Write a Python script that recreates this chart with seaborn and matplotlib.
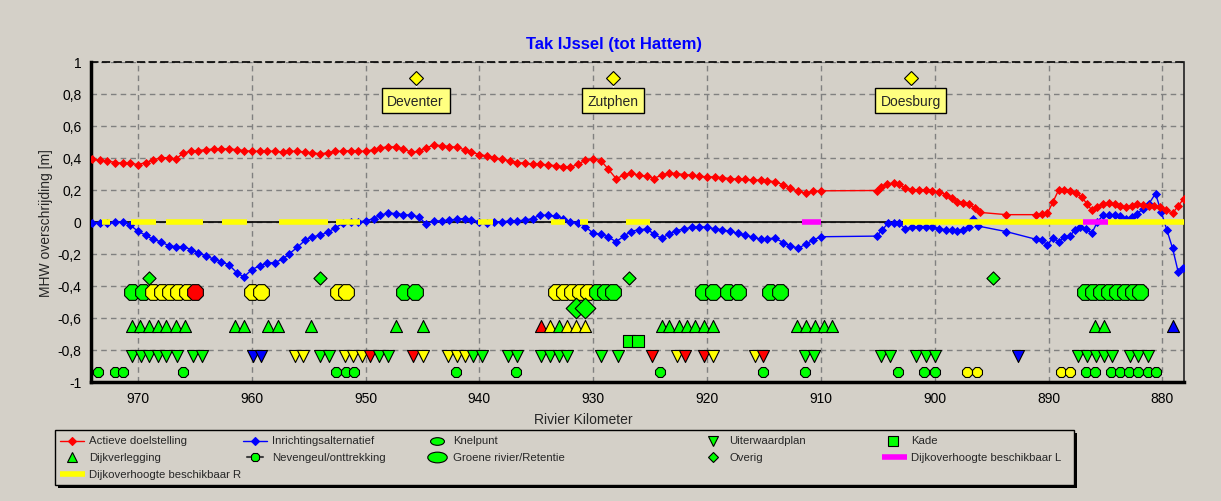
import matplotlib
matplotlib.use("Agg")
import matplotlib.pyplot as plt
import numpy as np
import pandas as pd
import seaborn as sns
from matplotlib.patches import Rectangle
from matplotlib.path import Path
from matplotlib.transforms import Affine2D
from matplotlib.ticker import MultipleLocator, FuncFormatter

# ── Colours ───────────────────────────────────────────────────────────────────
BG      = "#d4d0c8"
RED     = "#ff0000"
BLUE    = "#0000ff"
GREEN   = "#00ff00"
YELLOW  = "#ffff00"
MAGENTA = "#ff00ff"
LABEL   = "#ffff80"
GRID    = "#808080"
PALETTE = {"g": GREEN, "y": YELLOW, "r": RED, "b": BLUE}

# ── Data ──────────────────────────────────────────────────────────────────────
red_km = [
    974.0, 973.3, 972.7, 972.0, 971.3, 970.7, 970.0, 969.3, 968.7, 968.0,
    967.3, 966.7, 966.0, 965.3, 964.7, 964.0, 963.3, 962.7, 962.0, 961.3,
    960.7, 960.0, 959.3, 958.7, 958.0, 957.3, 956.7, 956.0, 955.3, 954.7,
    954.0, 953.3, 952.7, 952.0, 951.3, 950.7, 950.0, 949.3, 948.7, 948.0,
    947.3, 946.7, 946.0, 945.3, 944.7, 944.0, 943.3, 942.7, 942.0, 941.3,
    940.7, 940.0, 939.3, 938.7, 938.0, 937.3, 936.7, 936.0, 935.3, 934.7,
    934.0, 933.3, 932.7, 932.0, 931.3, 930.7, 930.0, 929.3, 928.7, 928.0,
    927.3, 926.7, 926.0, 925.3, 924.7, 924.0, 923.3, 922.7, 922.0, 921.3,
    920.7, 920.0, 919.3, 918.7, 918.0, 917.3, 916.7, 916.0, 915.3, 914.7,
    914.0, 913.3, 912.7, 912.0, 911.3, 910.7, 910.0,
    905.1, 904.7, 904.2, 903.6, 903.1, 902.6, 902.0, 901.4, 900.8, 900.2,
    899.6, 899.0, 898.5, 898.0, 897.5, 897.0, 896.5, 896.0,
    893.7, 891.1, 890.6, 890.1, 889.6, 889.1, 888.6, 888.1, 887.6, 887.1,
    886.6, 886.2, 885.7, 885.2, 884.7, 884.2, 883.7, 883.2, 882.7, 882.2,
    881.7, 881.2, 880.7, 880.2, 879.7, 879.1, 878.6, 878.1,
]
red_mhw = [
    0.39, 0.385, 0.38, 0.37, 0.365, 0.365, 0.357, 0.37, 0.385, 0.40,
    0.40, 0.39, 0.43, 0.44, 0.445, 0.45, 0.455, 0.455, 0.455, 0.45,
    0.445, 0.44, 0.44, 0.44, 0.44, 0.435, 0.44, 0.44, 0.435, 0.43,
    0.425, 0.43, 0.44, 0.44, 0.445, 0.44, 0.44, 0.45, 0.46, 0.47,
    0.465, 0.455, 0.435, 0.44, 0.46, 0.48, 0.475, 0.47, 0.465, 0.45,
    0.435, 0.42, 0.41, 0.40, 0.39, 0.38, 0.37, 0.365, 0.36, 0.36,
    0.355, 0.35, 0.345, 0.34, 0.36, 0.385, 0.395, 0.38, 0.33, 0.27,
    0.29, 0.305, 0.29, 0.285, 0.27, 0.29, 0.305, 0.30, 0.295, 0.29,
    0.285, 0.28, 0.28, 0.275, 0.27, 0.265, 0.265, 0.26, 0.26, 0.255,
    0.25, 0.23, 0.21, 0.19, 0.178, 0.19, 0.193,
    0.195, 0.215, 0.238, 0.24, 0.235, 0.21, 0.20, 0.20, 0.20, 0.195,
    0.185, 0.17, 0.15, 0.125, 0.12, 0.11, 0.085, 0.058,
    0.044, 0.044, 0.046, 0.052, 0.125, 0.20, 0.20, 0.195, 0.18, 0.155,
    0.11, 0.072, 0.095, 0.11, 0.115, 0.11, 0.10, 0.09, 0.10, 0.11,
    0.105, 0.10, 0.10, 0.095, 0.075, 0.052, 0.10, 0.145,
]

blue_km = [
    974.0, 973.3, 972.7, 972.0, 971.3, 970.7, 970.0, 969.3, 968.7, 968.0,
    967.3, 966.7, 966.0, 965.3, 964.7, 964.0, 963.3, 962.7, 962.0, 961.3,
    960.7, 960.0, 959.3, 958.7, 958.0, 957.3, 956.7, 956.0, 955.3, 954.7,
    954.0, 953.3, 952.7, 952.0, 951.3, 950.7, 950.0, 949.3, 948.7, 948.0,
    947.3, 946.7, 946.0, 945.3, 944.7, 944.0, 943.3, 942.7, 942.0, 941.3,
    940.7, 940.0, 939.3, 938.7, 938.0, 937.3, 936.7, 936.0, 935.3, 934.7,
    934.0, 933.3, 932.7, 932.0, 931.3, 930.7, 930.0, 929.3, 928.7, 928.0,
    927.3, 926.7, 926.0, 925.3, 924.7, 924.0, 923.3, 922.7, 922.0, 921.3,
    920.7, 920.0, 919.3, 918.7, 918.0, 917.3, 916.7, 916.0, 915.3, 914.7,
    914.0, 913.3, 912.7, 912.0, 911.3, 910.7, 910.0,
    905.1, 904.6, 904.1, 903.6, 903.1, 902.6, 902.0, 901.4, 900.8, 900.2,
    899.6, 899.0, 898.5, 898.0, 897.5, 897.0, 896.6, 896.2,
    893.7, 891.1, 890.6, 890.1, 889.6, 889.1, 888.6, 888.1, 887.7, 887.2,
    886.7, 886.2, 885.7, 885.2, 884.7, 884.2, 883.7, 883.2, 882.7, 882.2,
    881.7, 881.2, 880.6, 880.1, 879.6, 879.1, 878.6, 878.2,
]
blue_mhw = [
    -0.005, -0.005, -0.01, 0.0, 0.0, -0.02, -0.06, -0.085, -0.11, -0.125,
    -0.15, -0.156, -0.156, -0.175, -0.195, -0.215, -0.235, -0.25, -0.27, -0.32,
    -0.345, -0.30, -0.275, -0.26, -0.255, -0.235, -0.20, -0.16, -0.115, -0.095,
    -0.085, -0.065, -0.04, -0.01, 0.0, 0.0, 0.004, 0.02, 0.04, 0.055,
    0.05, 0.045, 0.04, 0.03, -0.015, 0.004, 0.005, 0.01, 0.015, 0.02,
    0.01, 0.0, -0.005, 0.0, 0.0, 0.005, 0.005, 0.01, 0.02, 0.04,
    0.04, 0.035, 0.02, 0.0, -0.005, -0.03, -0.073, -0.078, -0.095, -0.125,
    -0.09, -0.062, -0.05, -0.046, -0.075, -0.104, -0.075, -0.056, -0.045, -0.035,
    -0.031, -0.035, -0.045, -0.05, -0.06, -0.073, -0.085, -0.095, -0.11, -0.105,
    -0.104, -0.13, -0.15, -0.166, -0.14, -0.115, -0.094,
    -0.09, -0.05, -0.01, -0.005, -0.01, -0.045, -0.036, -0.03, -0.03, -0.03,
    -0.045, -0.05, -0.05, -0.06, -0.05, -0.03, 0.02, -0.027,
    -0.062, -0.11, -0.115, -0.146, -0.10, -0.125, -0.094, -0.09, -0.05, -0.035,
    -0.045, -0.073, 0.0, 0.04, 0.04, 0.04, 0.035, 0.02, 0.03, 0.05,
    0.08, 0.11, 0.176, 0.062, -0.05, -0.166, -0.316, -0.29,
]

# dike-height stretches on the zero line (start km, end km)
dijk_r_start = [973.2, 970.6, 967.5, 962.6, 957.6, 952.6, 940.1, 933.7, 931.2, 927.1, 902.8, 884.8]
dijk_r_end   = [972.5, 968.4, 964.3, 960.4, 953.3, 950.5, 938.8, 932.5, 930.5, 925.0, 887.0, 878.0]
dijk_l_start = [911.7, 887.0]
dijk_l_end   = [910.0, 884.8]

# towns
town_names = ["Deventer", "Zutphen", "Doesburg"]
town_km    = [945.6, 928.3, 902.1]
TOWN_Y, TOWN_BOX_Y = 0.9, 0.755

# measures, one row each
overig_km  = [969.0, 954.0, 926.9, 894.9]
overig_col = ["g", "g", "g", "g"]
OVERIG_Y = -0.35

knelpunt_km  = [970.5, 969.6, 968.7, 967.9, 967.2, 966.5, 965.7, 965.0,
                960.0, 959.2, 952.4, 951.7, 946.6, 945.7,
                933.3, 932.6, 931.9, 931.2, 930.5, 929.7, 929.0, 928.3,
                920.4, 919.5, 918.2, 917.3, 914.5, 913.6,
                886.8, 886.1, 885.4, 884.7, 884.0, 883.3, 882.6, 882.0]
knelpunt_col = ["g", "g", "y", "y", "y", "y", "y", "r",
                "y", "y", "y", "y", "g", "g",
                "y", "y", "y", "y", "y", "g", "g", "g",
                "g", "g", "g", "g", "g", "g",
                "g", "g", "g", "g", "g", "g", "g", "g"]
KNELPUNT_Y = -0.44

groen_km  = [931.5, 930.7]
groen_col = ["g", "g"]
GROEN_Y = -0.54

verlegging_km  = [970.5, 969.8, 969.0, 968.2, 967.5, 966.7, 965.9, 961.5, 960.7,
                  958.6, 957.7, 954.8, 947.3, 945.0,
                  934.6, 933.8, 933.0, 932.3, 931.5, 930.7,
                  924.0, 923.3, 922.5, 921.8, 921.1, 920.3, 919.5,
                  912.1, 911.3, 910.5, 909.7, 909.0, 885.9, 885.1, 879.1]
verlegging_col = ["g"] * 14 + ["r", "y", "g", "y", "y", "y"] + ["g"] * 14 + ["b"]
VERLEGGING_Y = -0.65

kade_km  = [926.9, 926.1]
kade_col = ["g", "g"]
KADE_Y = -0.745

uiterwaard_km  = [970.5, 969.7, 969.0, 968.2, 967.5, 966.6, 965.2, 964.4,
                  959.9, 959.2, 956.2, 955.5, 954.0, 953.2,
                  951.8, 951.1, 950.3, 949.6, 948.8, 948.0,
                  945.8, 945.0, 942.8, 942.0, 941.3, 940.6, 939.8,
                  937.5, 936.7, 934.6, 933.8, 933.0, 932.3, 929.3, 927.8,
                  924.8, 922.6, 921.9, 920.3, 919.5, 915.8, 915.1,
                  911.4, 910.6, 904.7, 903.9, 901.6, 900.8, 900.0, 892.7,
                  887.4, 886.6, 885.8, 885.1, 884.4, 882.8, 882.1, 881.3]
uiterwaard_col = (["g"] * 8 + ["b", "b", "y", "y", "g", "g"]
                  + ["y", "y", "y", "r", "g", "g"]
                  + ["r", "y", "y", "y", "y", "g", "g"]
                  + ["g"] * 8
                  + ["r", "y", "r", "r", "y", "y", "r"]
                  + ["g"] * 7 + ["b"] + ["g"] * 8)
UITERWAARD_Y = -0.84

nevengeul_km  = [973.5, 972.0, 971.3, 966.0, 952.6, 951.7, 951.0, 942.1, 936.8,
                 924.1, 915.1, 911.4, 903.2, 900.9, 900.0, 897.2, 896.3,
                 888.9, 888.1, 886.7, 885.9, 884.5, 883.7, 882.9, 882.1, 881.3, 880.6]
nevengeul_col = ["g"] * 15 + ["y", "y", "y", "y"] + ["g"] * 8
NEVENGEUL_Y = -0.94

legend_labels = [
    "Actieve doelstelling", "Inrichtingsalternatief", "Knelpunt", "Uiterwaardplan", "Kade",
    "Dijkverlegging", "Nevengeul/onttrekking", "Groene rivier/Retentie", "Overig",
    "Dijkoverhoogte beschikbaar L", "Dijkoverhoogte beschikbaar R",
]

# ── Figure ────────────────────────────────────────────────────────────────────
sns.set_style("white")
plt.rcParams["font.family"] = ["Liberation Sans", "DejaVu Sans"]

W, H = 1221, 502
fig = plt.figure(figsize=(W / 100, H / 100), dpi=100)
fig.patch.set_facecolor(BG)
ax = fig.add_axes([91.3 / W, 1 - 382.7 / H, 1093 / W, 320 / H])
ax.set_facecolor(BG)

ax.axhline(0, color="black", lw=1.2, zorder=1)

# lines
sns.lineplot(x=blue_km, y=blue_mhw, color=BLUE, lw=1, marker="D", markersize=4.5,
             markeredgecolor=BLUE, markeredgewidth=0.6, estimator=None, sort=False,
             ax=ax, zorder=3)
sns.lineplot(x=red_km, y=red_mhw, color=RED, lw=1, marker="D", markersize=4.5,
             markeredgecolor=RED, markeredgewidth=0.6, estimator=None, sort=False,
             ax=ax, zorder=3)

ax.hlines([0] * len(dijk_r_start), dijk_r_start, dijk_r_end, color=YELLOW, lw=4, zorder=3.5)
ax.hlines([0] * len(dijk_l_start), dijk_l_start, dijk_l_end, color=MAGENTA, lw=4, zorder=3.5)

# town labels
for name, km in zip(town_names, town_km):
    ax.plot([km, km], [TOWN_BOX_Y, TOWN_Y], color="white", lw=1, zorder=4)
    ax.plot(km, TOWN_Y, marker="D", markersize=7, color=YELLOW, markeredgecolor="black",
            markeredgewidth=0.8, zorder=5)
    ax.text(km, TOWN_BOX_Y, name, ha="center", va="center", fontsize=10, zorder=6,
            bbox=dict(boxstyle="square,pad=0.4", fc=LABEL, ec="black", lw=1))

# measure rows
rows = [
    (overig_km, overig_col, OVERIG_Y, "D", 45),
    (knelpunt_km, knelpunt_col, KNELPUNT_Y, "8", 150),
    (groen_km, groen_col, GROEN_Y, "D", 110),
    (verlegging_km, verlegging_col, VERLEGGING_Y, "^", 75),
    (kade_km, kade_col, KADE_Y, "s", 75),
    (uiterwaard_km, uiterwaard_col, UITERWAARD_Y, "v", 75),
    (nevengeul_km, nevengeul_col, NEVENGEUL_Y, "8", 60),
]
for km, col, level, mk, size in rows:
    df = pd.DataFrame({"km": km, "mhw": [level] * len(km), "kleur": col})
    # one call per point so that each later mark overlaps the previous one
    for i in range(len(df)):
        sns.scatterplot(data=df.iloc[[i]], x="km", y="mhw", hue="kleur", palette=PALETTE,
                        marker=mk, s=size, edgecolor="black", linewidth=0.8,
                        legend=False, ax=ax, zorder=5)

# axes styling
ax.set_xlim(974.1, 878.07)
ax.set_ylim(-1, 1)
ax.xaxis.set_major_locator(MultipleLocator(10))
ax.xaxis.set_minor_locator(MultipleLocator(1))
ax.yaxis.set_major_locator(MultipleLocator(0.2))
ax.yaxis.set_minor_locator(MultipleLocator(0.05))
ax.yaxis.set_major_formatter(FuncFormatter(lambda v, p: f"{round(v, 2) + 0.0:g}".replace(".", ",")))
ax.xaxis.set_major_formatter(FuncFormatter(lambda v, p: f"{v:.0f}"))
ax.tick_params(which="major", length=4, width=1, labelsize=10, colors="black", pad=3)
ax.tick_params(which="minor", length=2.5, width=1, colors="black")
ax.grid(which="major", color=GRID, lw=1, linestyle=(0, (4, 3)), zorder=0)
ax.set_axisbelow(True)
for side in ["left", "bottom"]:
    ax.spines[side].set_linewidth(2.5)
    ax.spines[side].set_color("black")
ax.spines["right"].set_linewidth(1.2)
ax.spines["right"].set_color("#202020")
ax.spines["top"].set_linewidth(1.2)
ax.spines["top"].set_color("black")
ax.spines["top"].set_linestyle((0, (4, 3)))
ax.set_xlabel("")
ax.set_ylabel("MHW overschrijding [m]", fontsize=10, labelpad=2)
ax.yaxis.set_label_coords(-38 / 1093, 0.5)

fig.text(0.503, 1 - 45 / H, "Tak IJssel (tot Hattem)", ha="center", va="center",
         fontsize=12, fontweight="bold", color=BLUE)
fig.text(583 / W, 1 - 420 / H, "Rivier Kilometer", ha="center", va="center", fontsize=10)

# ── Legend (pixel coordinates) ────────────────────────────────────────────────
lax = fig.add_axes([0, 0, 1, 1], zorder=10)
lax.set_xlim(0, W)
lax.set_ylim(H, 0)
lax.axis("off")
lax.add_patch(Rectangle((58, 434), 1019, 55, fc="black", ec="none"))
lax.add_patch(Rectangle((55, 431), 1019, 55, fc=BG, ec="black", lw=1))

ellipse = Path.unit_circle().transformed(Affine2D().scale(1, 0.55))
row_y = [441.5, 458.3, 475]
col_text = [89, 272, 453, 729, 911]
col_mark = [72, 255, 437, 713, 893]
handles = [
    dict(line=RED, mk="D", ms=4, fc=RED, ec=RED),
    dict(line=BLUE, mk="D", ms=4, fc=BLUE, ec=BLUE),
    dict(mk=ellipse, ms=10, fc=GREEN, ec="black"),
    dict(mk="v", ms=7, fc=GREEN, ec="black"),
    dict(mk="s", ms=7, fc=GREEN, ec="black"),
    dict(mk="^", ms=7, fc=GREEN, ec="black"),
    dict(stub="#404040", mk="8", ms=6, fc=GREEN, ec="black"),
    dict(mk=ellipse, ms=14, fc=GREEN, ec="black"),
    dict(mk="D", ms=5, fc=GREEN, ec="black"),
    dict(thick=MAGENTA),
    dict(thick=YELLOW),
]
for i, (label, h) in enumerate(zip(legend_labels, handles)):
    r, c = divmod(i, 5)
    y, xm = row_y[r], col_mark[c]
    if "line" in h:
        lax.plot([xm - 12, xm + 12], [y, y], color=h["line"], lw=1)
    if "stub" in h:
        lax.plot([xm - 8, xm + 8], [y, y], color=h["stub"], lw=1.5)
    if "thick" in h:
        lax.plot([col_text[c] - 29, col_text[c] - 4], [y, y], color=h["thick"], lw=4,
                 solid_capstyle="butt")
    if "mk" in h:
        lax.plot(xm, y, marker=h["mk"], ms=h["ms"], mfc=h["fc"], mec=h["ec"], mew=0.8)
    lax.text(col_text[c], y, label, ha="left", va="center", fontsize=8.2)

plt.savefig("out.png", dpi=100, facecolor=BG)
